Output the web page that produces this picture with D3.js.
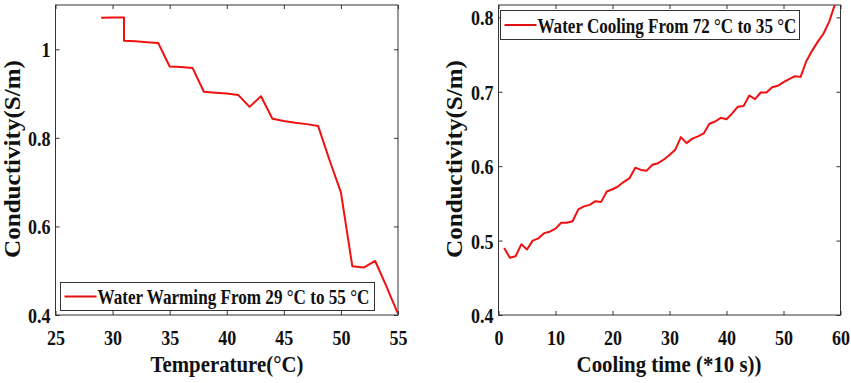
<!DOCTYPE html>
<html>
<head>
<meta charset="utf-8">
<script src="https://cdn.jsdelivr.net/npm/d3@7"></script>
<style>
  body { margin: 0; background: #fff; }
  text { font-family: "Liberation Serif", "Times New Roman", serif; font-weight: bold; fill: #111; }
</style>
</head>
<body>
<div id="chart"></div>
<script>
// left panel: warming
const warmTemp = [29, 30, 31, 31, 32, 33, 34, 35, 36, 37, 38, 39, 40, 41, 42, 43, 44, 45, 46, 47, 48, 49, 50, 51, 52, 53, 54, 54.3, 55];
const warmCond = [1.071, 1.072, 1.072, 1.019, 1.018, 1.016, 1.014, 0.961, 0.960, 0.958, 0.904, 0.902, 0.900, 0.897, 0.870, 0.894, 0.843, 0.838, 0.834, 0.831, 0.827, 0.750, 0.677, 0.510, 0.507, 0.522, 0.464, 0.445, 0.403];
const warmXTicks = [25, 30, 35, 40, 45, 50, 55];
const warmYTicks = [0.4, 0.6, 0.8, 1];

// right panel: cooling
const coolTime = [1, 2, 3, 4, 5, 6, 7, 8, 9, 10, 11, 12, 13, 14, 15, 16, 17, 18, 19, 20,
  21, 22, 23, 24, 25, 26, 27, 28, 29, 30, 31, 32, 33, 34, 35, 36, 37, 38, 39, 40,
  41, 42, 43, 44, 45, 46, 47, 48, 49, 50, 51, 52, 53, 54, 55, 56, 57, 58, 59];
const coolCond = [0.490, 0.477, 0.479, 0.495, 0.488, 0.500, 0.503, 0.510, 0.512, 0.516,
  0.524, 0.524, 0.526, 0.542, 0.546, 0.548, 0.553, 0.552, 0.566, 0.569,
  0.573, 0.579, 0.584, 0.598, 0.595, 0.594, 0.602, 0.604, 0.609, 0.615,
  0.622, 0.639, 0.631, 0.637, 0.640, 0.644, 0.657, 0.660, 0.665, 0.663,
  0.671, 0.680, 0.681, 0.695, 0.690, 0.699, 0.699, 0.706, 0.708, 0.713,
  0.717, 0.721, 0.720, 0.741, 0.755, 0.767, 0.778, 0.794, 0.817];
const coolXTicks = [0, 10, 20, 30, 40, 50, 60];
const coolYTicks = [0.4, 0.5, 0.6, 0.7, 0.8];

const width = 851, height = 383;
const sx = 0.82; // text in the picture is squeezed sideways

const svg = d3.select('#chart').append('svg')
  .attr('width', width)
  .attr('height', height);

svg.append('rect').attr('width', width).attr('height', height).attr('fill', '#fff');

// squeeze a text sideways so it spans len px, keeping a real bbox
function fit(sel, len, pre) {
  const w = sel.node().getComputedTextLength();
  sel.attr('transform', `${pre} scale(${len / w},1)`);
}

function panel(cfg) {
  const x = d3.scaleLinear().domain(cfg.xDomain).range([cfg.left, cfg.right]);
  const y = d3.scaleLinear().domain(cfg.yDomain).range([cfg.bottom, cfg.top]);
  const g = svg.append('g');

  const clipId = 'clip' + cfg.id;
  g.append('clipPath').attr('id', clipId)
    .append('rect')
      .attr('x', cfg.left).attr('y', cfg.top)
      .attr('width', cfg.right - cfg.left).attr('height', cfg.bottom - cfg.top);

  // axes, ticks point inward
  const bottom = g.append('g')
    .attr('transform', `translate(0,${cfg.bottom})`)
    .call(d3.axisBottom(x).tickValues(cfg.xTicks).tickSizeInner(-4).tickSizeOuter(0).tickFormat(d3.format('d')));
  bottom.selectAll('text')
    .attr('y', 30).attr('dy', 0)
    .attr('transform', `scale(${sx},1)`);

  const leftAx = g.append('g')
    .attr('transform', `translate(${cfg.left},0)`)
    .call(d3.axisLeft(y).tickValues(cfg.yTicks).tickSizeInner(-4).tickSizeOuter(0)
      .tickFormat(d => d === 1 ? '1' : d3.format('.1f')(d)));
  leftAx.selectAll('text')
    .attr('x', -5 / sx).attr('dy', '0.34em')
    .attr('transform', `scale(${sx},1)`);

  g.append('g')
    .attr('transform', `translate(0,${cfg.top})`)
    .call(d3.axisTop(x).tickValues(cfg.xTicks).tickSizeInner(-4).tickSizeOuter(0).tickFormat(''));
  g.append('g')
    .attr('transform', `translate(${cfg.right},0)`)
    .call(d3.axisRight(y).tickValues(cfg.yTicks).tickSizeInner(-4).tickSizeOuter(0).tickFormat(''));

  g.selectAll('.domain').remove();
  g.selectAll('.tick line').attr('stroke', '#333');
  g.selectAll('.tick text').attr('font-size', 22).attr('fill', '#111')
    .attr('font-family', '"Liberation Serif", serif').attr('font-weight', 'bold');

  g.append('rect')
    .attr('x', cfg.left).attr('y', cfg.top)
    .attr('width', cfg.right - cfg.left).attr('height', cfg.bottom - cfg.top)
    .attr('fill', 'none').attr('stroke', '#333').attr('stroke-width', 1);

  const line = d3.line().x((d, i) => x(cfg.xs[i])).y(d => y(d));
  g.append('path')
    .datum(cfg.ys)
    .attr('clip-path', `url(#${clipId})`)
    .attr('d', line)
    .attr('fill', 'none')
    .attr('stroke', '#f01010')
    .attr('stroke-width', 2)
    .attr('stroke-linejoin', 'round');

  // axis titles
  const xt = g.append('text')
    .attr('text-anchor', 'middle')
    .attr('font-size', 23)
    .text(cfg.xTitle);
  fit(xt, cfg.xTitleLen, `translate(${cfg.xTitleX},372)`);

  const yt = g.append('text')
    .attr('text-anchor', 'middle')
    .attr('font-size', 23)
    .text('Conductivity(S/m)');
  fit(yt, 198, `translate(${cfg.yTitleX},159) rotate(-90)`);

  // legend
  const lg = cfg.legend;
  g.append('rect')
    .attr('x', lg.x).attr('y', lg.y).attr('width', lg.w).attr('height', lg.h)
    .attr('fill', '#fff').attr('stroke', '#333').attr('stroke-width', 1);
  g.append('line')
    .attr('x1', lg.x + 4).attr('x2', lg.x + 36)
    .attr('y1', lg.y + lg.h / 2).attr('y2', lg.y + lg.h / 2)
    .attr('stroke', '#e01010').attr('stroke-width', 2);
  const lt = g.append('text')
    .attr('font-size', 22)
    .text(lg.label);
  fit(lt, lg.textLen, `translate(${lg.x + 37},${lg.y + lg.h - 7})`);
}

panel({
  id: 'warm',
  xs: warmTemp, ys: warmCond,
  xDomain: [25, 55], yDomain: [0.4, 1.1],
  xTicks: warmXTicks, yTicks: warmYTicks,
  left: 55.5, right: 398, top: 5, bottom: 315,
  xTitle: 'Temperature(°C)', xTitleX: 227, xTitleLen: 153,
  yTitleX: 20,
  legend: { x: 60.5, y: 282.5, w: 314, h: 28, textLen: 272, label: 'Water Warming From 29 °C to 55 °C' }
});

panel({
  id: 'cool',
  xs: coolTime, ys: coolCond,
  xDomain: [0, 60], yDomain: [0.4, 0.8166],
  xTicks: coolXTicks, yTicks: coolYTicks,
  left: 498.5, right: 840.5, top: 5, bottom: 315,
  xTitle: 'Cooling time (*10 s))', xTitleX: 669, xTitleLen: 185,
  yTitleX: 462,
  legend: { x: 500.5, y: 10.5, w: 299, h: 29, textLen: 259, label: 'Water Cooling From 72 °C to 35 °C' }
});
</script>
</body>
</html>
